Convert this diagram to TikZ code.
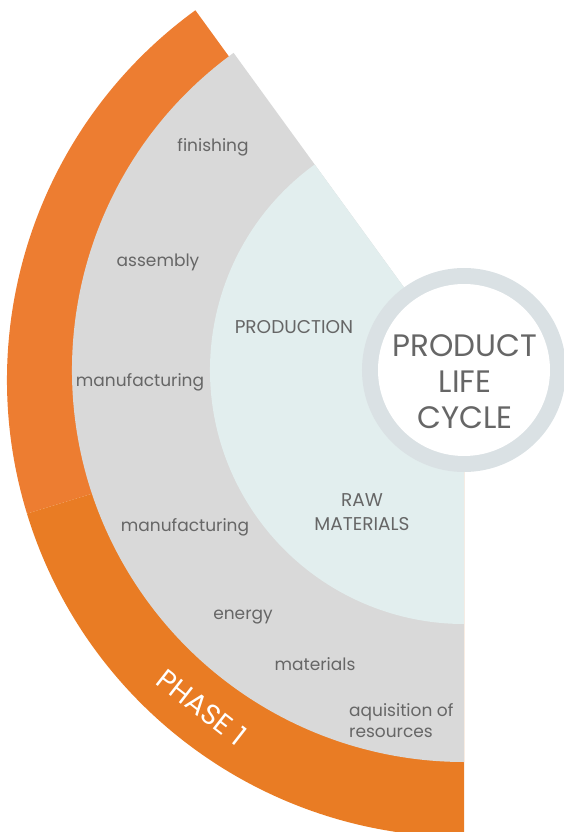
\documentclass[tikz,border=0pt]{standalone}
\usepackage{fontspec}
\setmainfont{Poppins}
\definecolor{phaseA}{HTML}{ED7D31}
\definecolor{phaseB}{HTML}{E97C24}
\definecolor{stepgrey}{HTML}{D9D9D9}
\definecolor{corelight}{HTML}{E2EEEE}
\definecolor{ringgrey}{HTML}{DAE1E4}
\definecolor{labelgrey}{HTML}{666666}
\tikzset{
  lbl/.style={text=labelgrey, font=\fontsize{17}{21}\selectfont},
  caps/.style={text=labelgrey, font=\fontsize{18.5}{24}\selectfont, align=center},
}
\begin{document}
\begin{tikzpicture}[x=1pt,y=1pt]
        \tikzstyle{every node}+=[inner sep=0pt]
        \useasboundingbox (-464,-462) rectangle (99,370);
        % outer phase ring
        \fill [phaseA] (0,-10) -- ++(126:457) arc [start angle=126, end angle=197, radius=457] -- cycle;
        \fill [phaseB] (0,-10) -- ++(197:457) arc [start angle=197, end angle=270, radius=457] -- cycle;
        % steps
        \fill [stepgrey] (0,0) -- (126:392) arc [start angle=126, end angle=270, radius=392] -- cycle;
        % stages
        \fill [corelight] (0,0) -- (126:254) arc [start angle=126, end angle=270, radius=254] -- cycle;
        % centre
        \fill [ringgrey] (0,0) circle (102);
        \fill [white] (0,0) circle (86);
        \node [text=labelgrey, font=\fontsize{31}{36}\selectfont, align=center] (plc) at (1,-12) {PRODUCT\\LIFE\\CYCLE};
        \node [caps] (production) at (-170,43) {PRODUCTION};
        \node [caps] (raw) at (-102,-142) {RAW\\MATERIALS};
        \node [lbl] (finishing) at (-251,223) {finishing};
        \node [lbl] (assembly) at (-306,108) {assembly};
        \node [lbl] (manuf1) at (-324,-12) {manufacturing};
        \node [lbl] (manuf2) at (-279,-157) {manufacturing};
        \node [lbl] (energy) at (-221,-247) {energy};
        \node [lbl] (materials) at (-149,-294) {materials};
        \node [lbl, anchor=west, align=left] (aquisition) at (-115,-351) {aquisition of\\resources};
        \node [text=white, font=\fontsize{28.5}{30}\selectfont, rotate=-38] (phase) at (-262,-337) {PHASE 1};
\end{tikzpicture}
\end{document}
